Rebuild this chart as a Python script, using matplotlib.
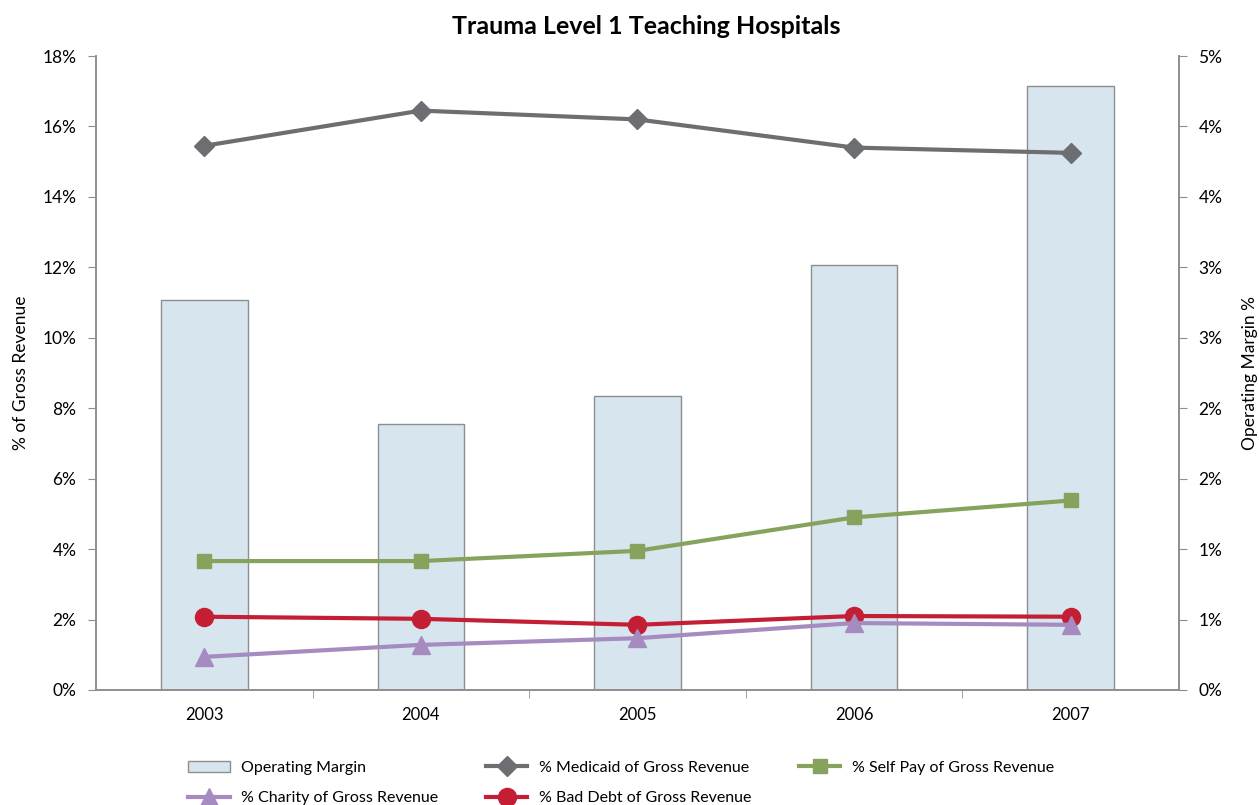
import numpy as np
import matplotlib.pyplot as plt
from matplotlib.ticker import FixedLocator

plt.rcParams['font.family'] = ['Lato', 'DejaVu Sans']

anos = ['2003', '2004', '2005', '2006', '2007']
margem_operacional = [2.77, 1.89, 2.09, 3.02, 4.29]
medicaid = [15.45, 16.45, 16.2, 15.4, 15.25]
self_pay = [3.66, 3.66, 3.95, 4.9, 5.38]
bad_debt = [2.08, 2.02, 1.85, 2.1, 2.08]
charity = [0.94, 1.28, 1.47, 1.9, 1.85]

cinza = '#8e8e90'
x = np.arange(len(anos))

fig = plt.figure(figsize=(12.59, 8.05), dpi=100)
ax = fig.add_axes([0.0762, 0.1429, 0.8603, 0.7875])
ax2 = ax.twinx()

# barras no eixo da direita, linhas no da esquerda
barras = ax2.bar(x, margem_operacional, width=0.4, color='#d7e6ee', edgecolor=cinza,
                 linewidth=1.0, label='Operating Margin', zorder=1)
ax.set_zorder(ax2.get_zorder() + 1)
ax.patch.set_visible(False)

l_med, = ax.plot(x, medicaid, color='#6d6e71', marker='D', markersize=10, linewidth=3,
                 label='% Medicaid of Gross Revenue')
l_sp, = ax.plot(x, self_pay, color='#86a35e', marker='s', markersize=10, linewidth=3,
                label='% Self Pay of Gross Revenue')
l_bd, = ax.plot(x, bad_debt, color='#c41e34', marker='o', markersize=13, linewidth=3,
                label='% Bad Debt of Gross Revenue')
l_ch, = ax.plot(x, charity, color='#a58bbf', marker='^', markersize=13, linewidth=3,
                label='% Charity of Gross Revenue')

ax.set_xlim(-0.5, 4.5)
ax.set_ylim(0, 18)
ax2.set_ylim(0, 4.5)

ax.set_yticks(np.arange(0, 19, 2))
ax.set_yticklabels([f'{v}%' for v in range(0, 19, 2)])
ticks_dir = np.arange(0, 4.51, 0.5)
ax2.yaxis.set_major_locator(FixedLocator(ticks_dir))
ax2.set_yticklabels([f'{int(np.floor(v + 0.5))}%' for v in ticks_dir])

ax.set_xticks(x)
ax.set_xticklabels(anos)
ax.set_xticks([0.5, 1.5, 2.5, 3.5], minor=True)
ax.tick_params(axis='x', which='major', length=0, pad=12, labelsize=12)
ax.tick_params(axis='x', which='minor', length=6, color=cinza, direction='out')
ax.tick_params(axis='y', length=6, color=cinza, labelsize=12.5, pad=8)
ax2.tick_params(axis='y', length=6, color=cinza, labelsize=12.5, pad=8)
ax2.tick_params(axis='x', length=0)

for a in (ax, ax2):
    a.spines['top'].set_visible(False)
    for s in ('left', 'right', 'bottom'):
        a.spines[s].set_color(cinza)
        a.spines[s].set_linewidth(1.2)

ax.set_ylabel('% of Gross Revenue', fontsize=12.5, labelpad=10)
ax2.set_ylabel('Operating Margin %', fontsize=12.5, rotation=90, labelpad=14)

fig.text(0.513, 0.967, 'Trauma Level 1 Teaching Hospitals', ha='center', va='center',
         fontsize=18, fontweight='bold')

handles = [barras, l_ch, l_med, l_bd, l_sp]
labels = [h.get_label() for h in handles]
fig.legend(handles, labels, loc='lower left', bbox_to_anchor=(0.138, -0.018), ncol=3,
           frameon=False, fontsize=11.5, columnspacing=3.0, handlelength=2.6,
           handletextpad=0.7, labelspacing=1.0)

fig.savefig('out.png', dpi=100)
